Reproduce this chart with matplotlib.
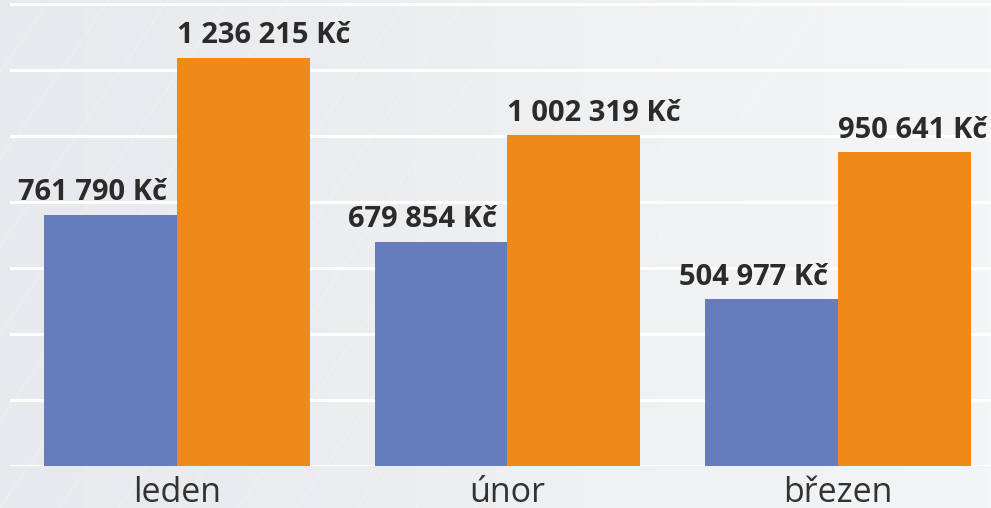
import numpy as np
import matplotlib
matplotlib.use("Agg")
import matplotlib.pyplot as plt
from matplotlib.colors import LinearSegmentedColormap

months = ["leden", "únor", "březen"]
series_a = [761790, 679854, 504977]
series_b = [1236215, 1002319, 950641]
y_ticks = [0, 200000, 400000, 600000, 800000, 1000000, 1200000, 1400000]

def fmt(v):
    return f"{v:,}".replace(",", " ") + " Kč"

plt.rcParams['font.family'] = ['Open Sans', 'DejaVu Sans']

W, H = 991, 508
fig = plt.figure(figsize=(W / 100, H / 100), dpi=100)

# background gradient
bg = fig.add_axes([0, 0, 1, 1], zorder=-10)
cmap = LinearSegmentedColormap.from_list("bg", ["#e7e9ec", "#edeff1", "#f4f5f6"])
grad = np.linspace(0, 1, 256).reshape(1, -1)
bg.imshow(grad, aspect="auto", cmap=cmap, extent=[0, 1, 0, 1])
# faint diagonal streaks
for k in range(14):
    x0 = -0.3 + k * 0.06
    bg.plot([x0, x0 + 0.35], [0.0, 1.0], color="white", lw=0.8, alpha=0.25)
bg.set_xlim(0, 1)
bg.set_ylim(0, 1)
bg.axis("off")

left_px, right_px, bottom_px, top_px = 10, 991, 466, 0
ax = fig.add_axes([left_px / W, (H - bottom_px) / H,
                   (right_px - left_px) / W, (bottom_px - top_px) / H])
ax.patch.set_alpha(0)

spacing = 330.5
c0 = 177.0
x = np.arange(len(months))
ax.set_xlim((left_px - c0) / spacing, (right_px - c0) / spacing)
ax.set_ylim(0, 1412000)

w = 133 / spacing
blue = "#677cbd"
orange = "#ef8a19"
ax.bar(x - w / 2, series_a, width=w, color=blue, zorder=3)
ax.bar(x + w / 2, series_b, width=w, color=orange, zorder=3)

for t in y_ticks:
    ax.axhline(t, color="white", lw=2.2, zorder=1)

txt_color = "#2b2b2b"
fs = 21
for i, v in enumerate(series_a):
    ax.annotate(fmt(v), (x[i], v), xytext=(-7.5, 10.5), textcoords="offset points",
                ha="right", va="baseline", fontsize=fs, fontweight="bold",
                color=txt_color, zorder=5)
for i, v in enumerate(series_b):
    if i == len(series_b) - 1:
        ax.annotate(fmt(v), (x[i] + w, v), xytext=(11.5, 10.5), textcoords="offset points",
                    ha="right", va="baseline", fontsize=fs, fontweight="bold",
                    color=txt_color, zorder=5)
    else:
        ax.annotate(fmt(v), (x[i], v), xytext=(0, 10.5), textcoords="offset points",
                    ha="left", va="baseline", fontsize=fs, fontweight="bold",
                    color=txt_color, zorder=5)

ax.set_xticks(x)
ax.set_xticklabels(months, fontsize=24.5, color="#333333")
ax.tick_params(axis="x", length=0, pad=7)
ax.set_yticks([])
for s in ax.spines.values():
    s.set_visible(False)

fig.savefig("out.png", dpi=100)
